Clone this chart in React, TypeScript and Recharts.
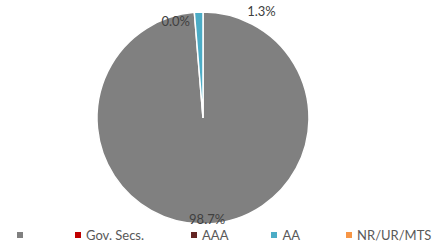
import { Legend, Pie, PieChart, Cell } from 'recharts';

const categories = ['', 'Gov. Secs.', 'AAA', 'AA', 'NR/UR/MTS'];
const shares = [98.7, 0.0, 0.0, 1.3, 0.0];
const colors = ['#808080', '#C00000', '#632523', '#4BACC6', '#F79646'];

const data = categories.map((name, i) => ({ name, value: shares[i] }));

const RADIAN = Math.PI / 180;
const FONT = 'Lato, "Open Sans", sans-serif';

// label placement tweaks per slice (angle offset in degrees, radius offset in px)
const labelTweak: Record<number, { da: number; dr: number }> = {
  0: { da: 0, dr: -5 },
  1: { da: 11, dr: -5 },
  3: { da: -31, dr: 16 },
};

function renderLabel(props: any) {
  const { cx, cy, midAngle, outerRadius, index, value } = props;
  const tweak = labelTweak[index];
  if (!tweak) return null;
  const a = (midAngle + tweak.da) * RADIAN;
  const r = outerRadius + tweak.dr;
  const x = cx + r * Math.cos(a);
  const y = cy - r * Math.sin(a);
  return (
    <text
      x={x}
      y={y}
      textAnchor="middle"
      dominantBaseline="central"
      fill="#404040"
      fontSize={13}
      fontFamily={FONT}
    >
      {`${Number(value).toFixed(1)}%`}
    </text>
  );
}

function LegendContent() {
  const gaps = [0, 52, 47, 43, 46];
  return (
    <div style={{ display: 'flex', alignItems: 'center', paddingLeft: 17, fontFamily: FONT, fontSize: 13, color: '#595959' }}>
      {categories.map((name, i) => (
        <div key={i} style={{ display: 'flex', alignItems: 'center', marginLeft: gaps[i] }}>
          <span style={{ width: 6, height: 6, background: colors[i], display: 'inline-block', marginRight: name ? 5 : 0 }} />
          <span>{name}</span>
        </div>
      ))}
    </div>
  );
}

export default function App() {
  return (
    <div style={{ position: 'absolute', left: 0, top: 0, width: 438, height: 244, background: '#fff' }}>
      <PieChart width={438} height={244} margin={{ top: 0, right: 0, bottom: 0, left: 0 }}>
        <Pie
          data={data}
          dataKey="value"
          nameKey="name"
          cx={203}
          cy={118}
          outerRadius={106}
          startAngle={90}
          endAngle={-270}
          stroke="#ffffff"
          strokeWidth={1.5}
          label={renderLabel}
          labelLine={false}
          isAnimationActive={false}
        >
          {data.map((entry, idx) => (
            <Cell key={idx} fill={colors[idx]} />
          ))}
        </Pie>
        <Legend
          layout="horizontal"
          verticalAlign="bottom"
          align="left"
          wrapperStyle={{ left: 0, bottom: 1, width: 438 }}
          content={() => <LegendContent />}
        />
      </PieChart>
    </div>
  );
}
